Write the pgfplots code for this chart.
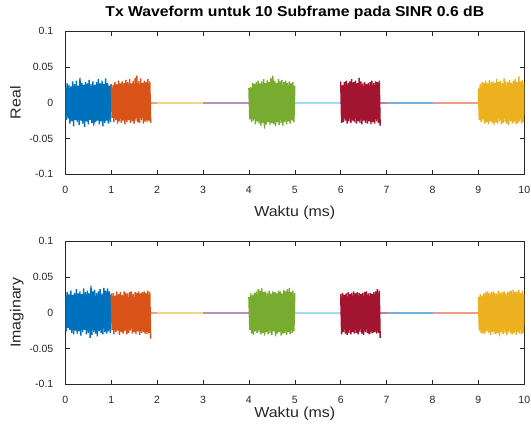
\documentclass[border=0pt]{standalone}
\usepackage{fontspec}
\setmainfont{Liberation Sans}
\newfontfamily\lblfont{Liberation Sans}[FakeStretch=1.1]
\usepackage{pgfplots}
\usepackage{pgfplotstable}
\pgfplotsset{compat=1.18}

\definecolor{c1}{rgb}{0,0.447,0.741}
\definecolor{c2}{rgb}{0.85,0.325,0.098}
\definecolor{c3}{rgb}{0.929,0.694,0.125}
\definecolor{c4}{rgb}{0.494,0.184,0.556}
\definecolor{c5}{rgb}{0.466,0.674,0.188}
\definecolor{c6}{rgb}{0.301,0.745,0.933}
\definecolor{c7}{rgb}{0.635,0.078,0.184}
\definecolor{mgray}{rgb}{0.15,0.15,0.15}

\pgfplotstableread{
x re im
0.00 0.021 0.024
0.02 -0.024 -0.026
0.04 0.027 0.029
0.06 -0.022 -0.021
0.08 0.025 0.026
0.10 -0.029 -0.024
0.12 0.023 0.031
0.14 -0.026 -0.028
0.16 0.030 0.025
0.18 -0.033 -0.030
0.20 0.026 0.028
0.22 -0.024 -0.025
0.24 0.031 0.033
0.26 -0.027 -0.029
0.28 0.024 0.027
0.30 -0.031 -0.026
0.32 0.035 0.030
0.34 -0.025 -0.032
0.36 0.028 0.026
0.38 -0.029 -0.027
0.40 0.025 0.034
0.42 -0.034 -0.024
0.44 0.029 0.029
0.46 -0.026 -0.030
0.48 0.027 0.031
0.50 -0.030 -0.028
0.52 0.032 0.027
0.54 -0.024 -0.035
0.56 0.026 0.038
0.58 -0.028 -0.031
0.60 0.030 0.030
0.62 -0.032 -0.027
0.64 0.025 0.032
0.66 -0.027 -0.029
0.68 0.029 0.028
0.70 -0.025 -0.033
0.72 0.033 0.030
0.74 -0.030 -0.026
0.76 0.027 0.033
0.78 -0.026 -0.028
0.80 0.031 0.027
0.82 -0.033 -0.030
0.84 0.026 0.035
0.86 -0.028 -0.027
0.88 0.034 0.031
0.90 -0.025 -0.029
0.92 0.028 0.034
0.94 -0.029 -0.026
0.96 0.024 0.030
0.98 -0.027 -0.028
1.00 0.026 0.025
}\tblue

\pgfplotstableread{
x re im
1.00 0.026 0.027
1.02 -0.021 -0.024
1.04 0.025 0.028
1.06 -0.027 -0.030
1.08 0.029 0.024
1.10 -0.024 -0.027
1.12 0.026 0.030
1.14 -0.029 -0.025
1.16 0.031 0.026
1.18 -0.026 -0.031
1.20 0.027 0.029
1.22 -0.028 -0.027
1.24 0.030 0.025
1.26 -0.025 -0.029
1.28 0.028 0.030
1.30 -0.030 -0.026
1.32 0.032 0.028
1.34 -0.027 -0.030
1.36 0.029 0.027
1.38 -0.024 -0.028
1.40 0.033 0.029
1.42 -0.028 -0.025
1.44 0.027 0.030
1.46 -0.026 -0.029
1.48 0.031 0.026
1.50 -0.029 -0.027
1.52 0.035 0.029
1.54 -0.025 -0.030
1.56 0.038 0.028
1.58 -0.027 -0.026
1.60 0.030 0.030
1.62 -0.028 -0.031
1.64 0.034 0.027
1.66 -0.024 -0.028
1.68 0.028 0.029
1.70 -0.029 -0.027
1.72 0.031 0.030
1.74 -0.026 -0.029
1.76 0.029 0.028
1.78 -0.027 -0.030
1.80 0.033 0.031
1.82 -0.025 -0.028
1.84 0.030 0.029
1.86 -0.028 -0.036
}\torange

\pgfplotstableread{
x re im
4.00 0.021 0.022
4.02 -0.023 -0.024
4.04 0.022 0.027
4.06 -0.027 -0.029
4.08 0.028 0.025
4.10 -0.025 -0.031
4.12 0.026 0.028
4.14 -0.030 -0.026
4.16 0.029 0.030
4.18 -0.026 -0.028
4.20 0.031 0.033
4.22 -0.029 -0.027
4.24 0.027 0.031
4.26 -0.032 -0.030
4.28 0.030 0.035
4.30 -0.028 -0.028
4.32 0.033 0.029
4.34 -0.036 -0.032
4.36 0.028 0.030
4.38 -0.030 -0.027
4.40 0.032 0.028
4.42 -0.027 -0.030
4.44 0.029 0.031
4.46 -0.031 -0.028
4.48 0.035 0.027
4.50 -0.028 -0.031
4.52 0.038 0.030
4.54 -0.030 -0.026
4.56 0.031 0.029
4.58 -0.033 -0.033
4.60 0.028 0.028
4.62 -0.027 -0.029
4.64 0.033 0.031
4.66 -0.031 -0.027
4.68 0.030 0.030
4.70 -0.028 -0.032
4.72 0.032 0.027
4.74 -0.032 -0.029
4.76 0.029 0.032
4.78 -0.027 -0.028
4.80 0.031 0.030
4.82 -0.030 -0.031
4.84 0.028 0.033
4.86 -0.026 -0.027
4.88 0.030 0.035
4.90 -0.029 -0.030
4.92 0.027 0.029
4.94 -0.025 -0.028
4.96 0.029 0.031
4.98 -0.027 -0.026
5.00 0.024 0.028
}\tgreen

\pgfplotstableread{
x re im
6.00 0.030 0.026
6.02 -0.028 -0.030
6.04 0.025 0.028
6.06 -0.027 -0.027
6.08 0.029 0.025
6.10 -0.025 -0.029
6.12 0.031 0.027
6.14 -0.029 -0.031
6.16 0.028 0.029
6.18 -0.026 -0.028
6.20 0.030 0.026
6.22 -0.028 -0.030
6.24 0.033 0.028
6.26 -0.025 -0.027
6.28 0.029 0.030
6.30 -0.027 -0.029
6.32 0.031 0.027
6.34 -0.029 -0.028
6.36 0.028 0.029
6.38 -0.026 -0.030
6.40 0.035 0.028
6.42 -0.028 -0.027
6.44 0.030 0.026
6.46 -0.030 -0.029
6.48 0.027 0.028
6.50 -0.025 -0.031
6.52 0.029 0.029
6.54 -0.028 -0.027
6.56 0.026 0.030
6.58 -0.029 -0.028
6.60 0.028 0.027
6.62 -0.026 -0.030
6.64 0.029 0.028
6.66 -0.030 -0.029
6.68 0.031 0.026
6.70 -0.027 -0.028
6.72 0.028 0.029
6.74 -0.029 -0.027
6.76 0.030 0.030
6.78 -0.026 -0.029
6.80 0.029 0.033
6.82 -0.028 -0.028
6.84 0.031 0.031
6.86 -0.032 -0.035
}\tred

\pgfplotstableread{
x re im
9.00 0.020 0.022
9.02 -0.024 -0.025
9.04 0.026 0.026
9.06 -0.027 -0.028
9.08 0.029 0.024
9.10 -0.025 -0.030
9.12 0.028 0.027
9.14 -0.029 -0.029
9.16 0.031 0.029
9.18 -0.027 -0.026
9.20 0.027 0.030
9.22 -0.030 -0.028
9.24 0.032 0.027
9.26 -0.026 -0.031
9.28 0.029 0.029
9.30 -0.028 -0.027
9.32 0.030 0.030
9.34 -0.031 -0.029
9.36 0.028 0.028
9.38 -0.027 -0.030
9.40 0.033 0.027
9.42 -0.029 -0.028
9.44 0.029 0.031
9.46 -0.026 -0.033
9.48 0.031 0.028
9.50 -0.030 -0.027
9.52 0.028 0.029
9.54 -0.028 -0.030
9.56 0.034 0.030
9.58 -0.027 -0.028
9.60 0.030 0.027
9.62 -0.029 -0.031
9.64 0.029 0.029
9.66 -0.031 -0.027
9.68 0.032 0.030
9.70 -0.026 -0.029
9.72 0.028 0.031
9.74 -0.029 -0.030
9.76 0.031 0.032
9.78 -0.027 -0.028
9.80 0.033 0.029
9.82 -0.030 -0.031
9.84 0.029 0.030
9.86 -0.028 -0.027
9.88 0.037 0.032
9.90 -0.026 -0.029
9.92 0.030 0.028
9.94 -0.029 -0.030
9.96 0.032 0.031
9.98 -0.027 -0.028
10.00 0.028 0.026
}\tyellow

\pgfplotsset{
  mlab/.style={
    width=459pt, height=143pt, scale only axis,
    xmin=0, xmax=10, ymin=-0.1, ymax=0.1,
    xtick={0,1,2,3,4,5,6,7,8,9,10},
    ytick={-0.1,-0.05,0,0.05,0.1},
    yticklabels={-0.1,-0.05,0,0.05,0.1},
    tick align=inside, major tick length=4.6pt,
    axis line style={mgray, line width=0.6pt},
    every tick/.style={mgray, line width=0.6pt},
    tick label style={font=\fontsize{10.5}{12}\selectfont, text=mgray},
    /pgf/number format/assume math mode=true,
    xticklabel style={yshift=-8pt},
    yticklabel style={xshift=-8.5pt},
    label style={font=\lblfont\fontsize{14.5}{16}\selectfont, text=mgray},
    ylabel style={at={(axis description cs:-0.0976,0.5)}, anchor=base},
    no marks,
    burst/.style={line width=1.4pt, line join=bevel},
    flat/.style={line width=1.5pt, opacity=0.55},
  }
}

\begin{document}
\begin{tikzpicture}[x=1pt,y=1pt]
\path[use as bounding box] (0,0) rectangle (531,432);
\begin{axis}[mlab, at={(65.3pt,257.7pt)}, anchor=south west,
  title={Tx Waveform untuk 10 Subframe pada SINR 0.6 dB},
  title style={at={(axis description cs:0.5,1.0615)}, anchor=base, font=\lblfont\fontsize{14.3}{16}\selectfont\bfseries, text=black},
  xlabel={Waktu (ms)},
  xlabel style={at={(axis description cs:0.5,-0.2986)}, anchor=base},
  ylabel={Real}]
\addplot[c1, burst] table[x=x, y=re] {\tblue};
\addplot[c2, burst] table[x=x, y=re] {\torange};
\addplot[c2, flat] coordinates {(1.86,0) (2,0)};
\addplot[c3, flat] coordinates {(2,0) (3,0)};
\addplot[c4, flat] coordinates {(3,0) (4,0)};
\addplot[c5, burst] table[x=x, y=re] {\tgreen};
\addplot[c6, flat] coordinates {(5,0) (6,0)};
\addplot[c7, burst] table[x=x, y=re] {\tred};
\addplot[c7, flat] coordinates {(6.86,0) (7,0)};
\addplot[c1, flat] coordinates {(7,0) (8,0)};
\addplot[c2, flat] coordinates {(8,0) (9,0)};
\addplot[c3, burst] table[x=x, y=re] {\tyellow};
\end{axis}
\begin{axis}[mlab, at={(65.3pt,47.7pt)}, anchor=south west,
  xlabel={Waktu (ms)},
  xlabel style={at={(axis description cs:0.5,-0.2287)}, anchor=base},
  ylabel={Imaginary}]
\addplot[c1, burst] table[x=x, y=im] {\tblue};
\addplot[c2, burst] table[x=x, y=im] {\torange};
\addplot[c2, flat] coordinates {(1.86,0) (2,0)};
\addplot[c3, flat] coordinates {(2,0) (3,0)};
\addplot[c4, flat] coordinates {(3,0) (4,0)};
\addplot[c5, burst] table[x=x, y=im] {\tgreen};
\addplot[c6, flat] coordinates {(5,0) (6,0)};
\addplot[c7, burst] table[x=x, y=im] {\tred};
\addplot[c7, flat] coordinates {(6.86,0) (7,0)};
\addplot[c1, flat] coordinates {(7,0) (8,0)};
\addplot[c2, flat] coordinates {(8,0) (9,0)};
\addplot[c3, burst] table[x=x, y=im] {\tyellow};
\end{axis}
\end{tikzpicture}
\end{document}
